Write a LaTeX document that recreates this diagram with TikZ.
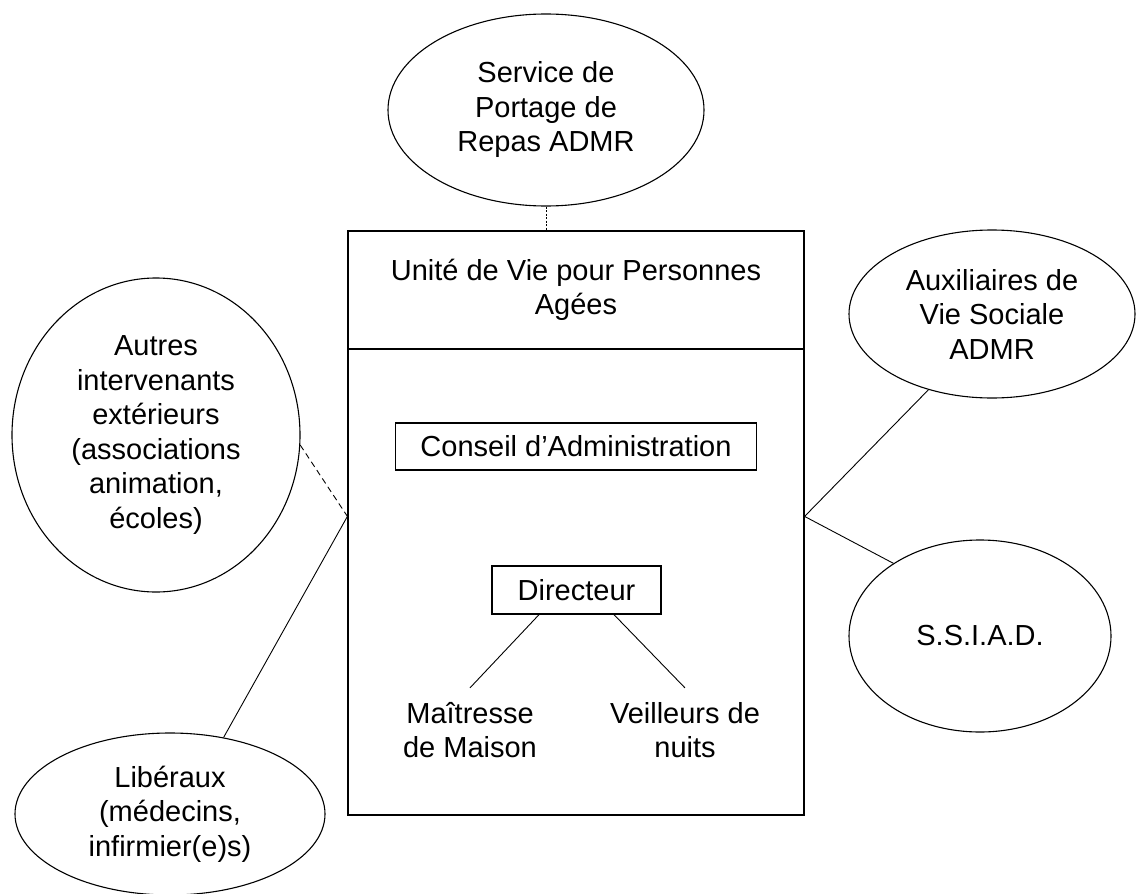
\documentclass[tikz,border=0pt]{standalone}
\usepackage{fontspec}
\setmainfont{Liberation Sans}
\usetikzlibrary{shapes.geometric,calc}

\begin{document}
\begin{tikzpicture}[x=1pt,y=-1pt,
  every node/.style={font=\fontsize{29}{34.5}\selectfont},
  bulle/.style={ellipse, draw, line width=1.1pt, inner sep=0pt, align=center},
  cadre/.style={rectangle, draw, line width=1.2pt, inner sep=0pt, align=center},
  poste/.style={align=center, inner sep=14pt},
  lien/.style={line width=0.9pt}]
  \useasboundingbox (0,0) rectangle (1136,894);
  \fill[white] (0,0) rectangle (1136,894);

  % unite de vie
  \node[cadre, minimum width=456pt, minimum height=118pt] (titre) at (576,290) {Unité de Vie pour Personnes\\Agées};
  \node[cadre, minimum width=456pt, minimum height=466pt] (corps) at (576,582) {};
  \node[cadre, minimum width=361pt, minimum height=47pt] (ca) at (576,446.5) {Conseil d’Administration};
  \node[cadre, minimum width=169pt, minimum height=48pt] (dir) at (576.5,590) {Directeur};
  \node[poste] (mm) at (470,730) {Maîtresse\\de Maison};
  \node[poste] (vn) at (685,730) {Veilleurs de\\nuits};

  % partenaires
  \node[bulle, minimum width=316pt, minimum height=192pt] (portage) at (546,110) {Service de\\Portage de\\Repas ADMR};
  \node[bulle, minimum width=288pt, minimum height=314pt] (autres) at (156,435) {Autres\\intervenants\\extérieurs\\(associations\\animation,\\écoles)};
  \node[bulle, minimum width=310pt, minimum height=162pt] (liberaux) at (170,814) {Libéraux\\(médecins,\\infirmier(e)s)};
  \node[bulle, minimum width=286pt, minimum height=168pt] (aux) at (992,314) {Auxiliaires de\\Vie Sociale\\ADMR};
  \node[bulle, minimum width=262pt, minimum height=192pt] (ssiad) at (980,636) {S.S.I.A.D.};

  \coordinate (jg) at ([yshift=-168pt]corps.north west);
  \coordinate (jd) at ([yshift=-168pt]corps.north east);

  \draw[lien, dash pattern=on 2pt off 1.5pt] (portage.south) -- (portage.south |- titre.north);
  \draw[lien, dash pattern=on 6pt off 4pt] (autres.-4) -- (jg);
  \draw[lien] (jg) -- (liberaux.55);
  \draw[lien] (jd) -- (aux.-130);
  \draw[lien] (jd) -- (ssiad.140);
  \draw[lien] ($(dir.south west)!.28!(dir.south east)$) -- (mm.north);
  \draw[lien] ($(dir.south west)!.72!(dir.south east)$) -- (vn.north);
\end{tikzpicture}
\end{document}
